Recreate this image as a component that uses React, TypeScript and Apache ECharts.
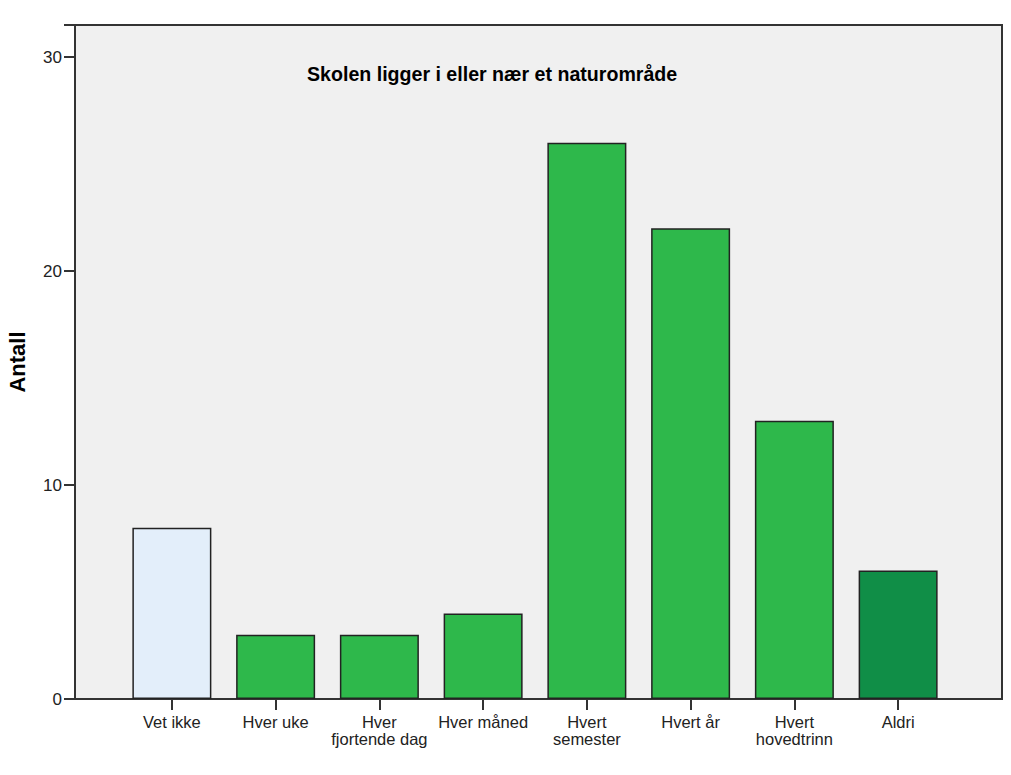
import React, { useEffect, useRef } from "react";
import * as echarts from "echarts";

const categories = ["Vet ikke", "Hver uke", "Hver\nfjortende dag", "Hver måned", "Hvert\nsemester", "Hvert år", "Hvert\nhovedtrinn", "Aldri"];
const counts = [8, 3, 3, 4, 26, 22, 13, 6];
const barColors = ["#e3eefa", "#2eb84b", "#2eb84b", "#2eb84b", "#2eb84b", "#2eb84b", "#2eb84b", "#108e47"];
const titleText = "Skolen ligger i eller nær et naturområde";
const yName = "Antall";

export default function App() {
  const ref = useRef<HTMLDivElement>(null);
  useEffect(() => {
    if (!ref.current) return;
    const chart = echarts.init(ref.current, null, { renderer: "svg" });
    const font = "'Liberation Sans', Arial, sans-serif";
    chart.setOption({
      animation: false,
      backgroundColor: "#ffffff",
      textStyle: { fontFamily: font },
      graphic: [
        {
          type: "rect",
          z: -1,
          shape: { x: 75, y: 25, width: 927, height: 674 },
          style: { fill: "#f0f0f0", stroke: "#333333", lineWidth: 2 },
        },
        {
          type: "text",
          left: 307,
          top: 64,
          z: 10,
          style: { text: titleText, font: `bold 19.6px ${font}`, fill: "#000000" },
        },
        {
          type: "text",
          x: 17,
          y: 362,
          rotation: Math.PI / 2,
          z: 10,
          style: {
            text: yName,
            font: `bold 22px ${font}`,
            fill: "#000000",
            align: "center",
            verticalAlign: "middle",
          },
        },
      ],
      grid: { left: 120, right: 61, top: 25, bottom: 76, containLabel: false, outerBoundsMode: "none" },
      xAxis: {
        type: "category",
        data: categories,
        axisLine: { show: true, lineStyle: { color: "#333333", width: 2 } },
        axisTick: { show: true, alignWithLabel: true, length: 11, lineStyle: { color: "#333333", width: 2 } },
        axisLabel: { color: "#222222", fontSize: 16.5, fontFamily: font, lineHeight: 17, margin: 14, interval: 0 },
        splitLine: { show: false },
      },
      yAxis: {
        type: "value",
        min: 0,
        max: 31.5,
        interval: 10,
        offset: 45,
        axisLine: { show: true, lineStyle: { color: "#333333", width: 2 } },
        axisTick: { show: true, length: 11, lineStyle: { color: "#333333", width: 2 } },
        axisLabel: {
          color: "#222222",
          fontSize: 17,
          fontFamily: font,
          margin: 13,
          formatter: (v: number) => (v % 10 === 0 ? String(v) : ""),
        },
        splitLine: { show: false },
      },
      series: [
        {
          type: "bar",
          barWidth: 79,
          data: counts.map((v, i) => ({
            value: v,
            itemStyle: { color: barColors[i], borderColor: "#222222", borderWidth: 1.5 },
          })),
        },
      ],
    });
    return () => chart.dispose();
  }, []);
  return <div ref={ref} style={{ width: 1011, height: 775, margin: -8 }} />;
}
